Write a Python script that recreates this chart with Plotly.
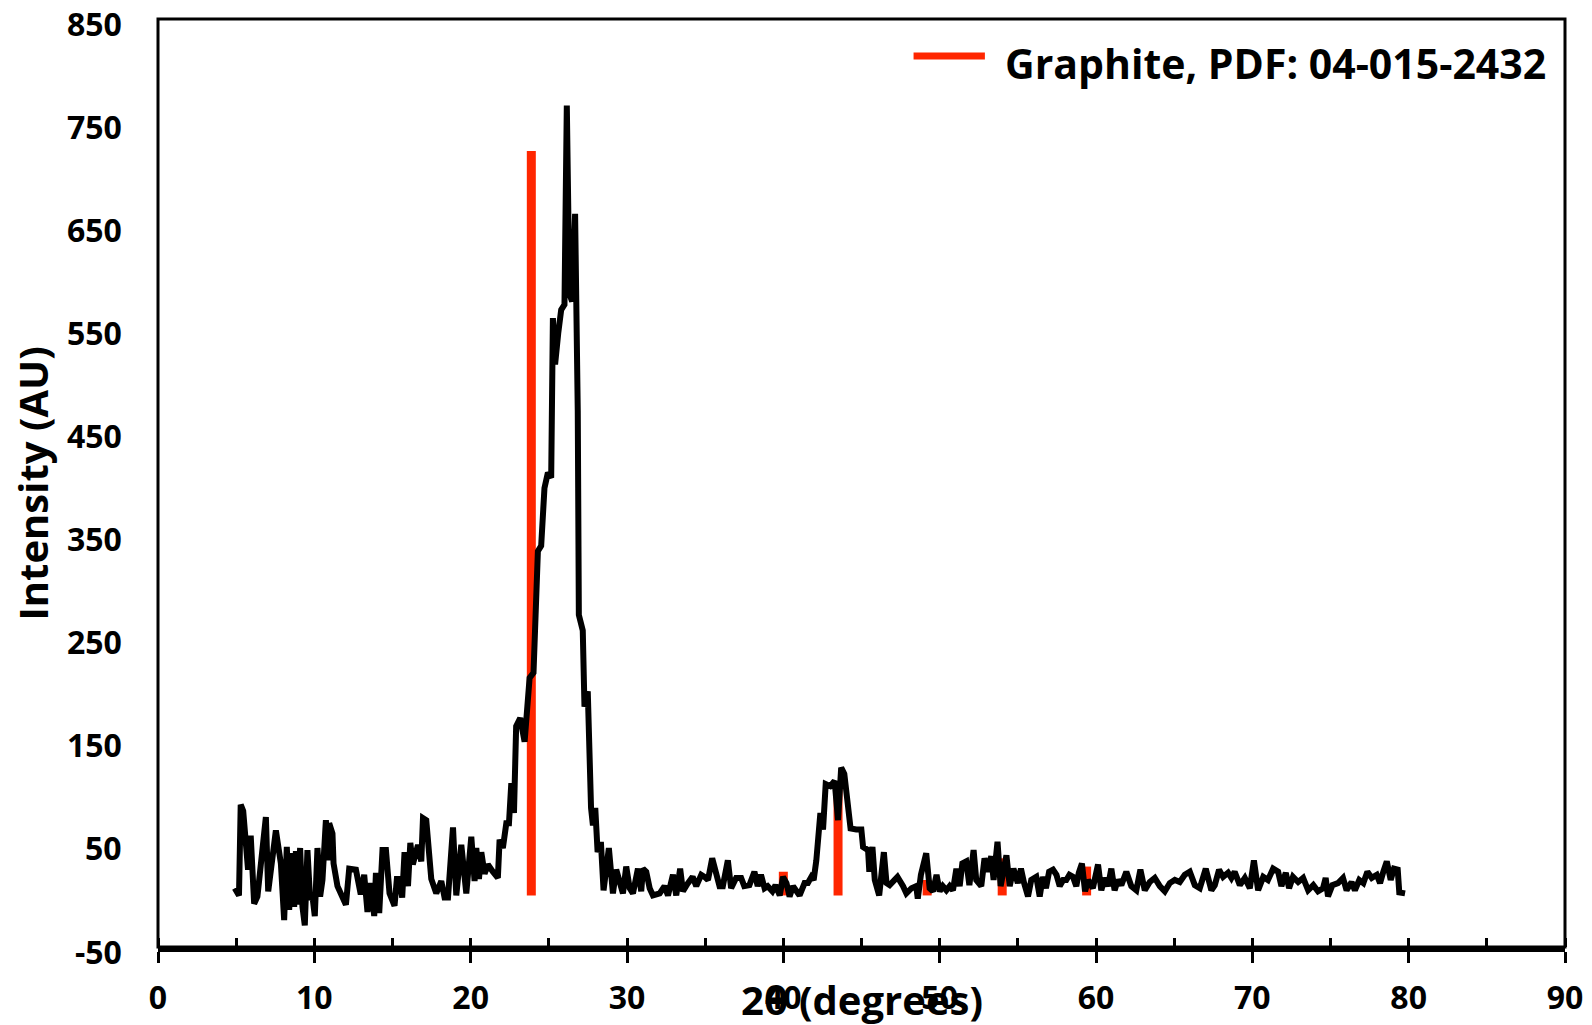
import plotly.graph_objects as go

# XRD pattern (2theta in degrees, intensity in AU)
two_theta = [
    4.91, 5.18, 5.29, 5.45, 5.76, 5.93, 6.15, 6.36, 6.90, 7.05, 7.54, 7.86, 8.07, 8.24, 8.39, 8.60,
    8.71, 8.82, 8.92, 9.09, 9.24, 9.39, 9.56, 9.73, 9.88, 10.03, 10.20, 10.37, 10.52, 10.74, 10.84,
    10.95, 11.16, 11.23, 11.48, 11.80, 12.02, 12.23, 12.66, 12.97, 13.19, 13.40, 13.62, 13.83, 13.94,
    14.15, 14.36, 14.58, 14.81, 15.13, 15.28, 15.45, 15.62, 15.77, 15.99, 16.14, 16.30, 16.63, 16.84,
    16.95, 17.16, 17.48, 17.80, 18.12, 18.33, 18.55, 18.87, 19.08, 19.40, 19.72, 20.04, 20.25, 20.36,
    20.53, 20.68, 20.89, 21.10, 21.42, 21.74, 21.85, 22.06, 22.28, 22.45, 22.60, 22.77, 22.91, 23.17,
    23.45, 23.66, 23.77, 24.02, 24.30, 24.51, 24.72, 24.94, 25.15, 25.26, 25.40, 25.60, 25.79, 26.00,
    26.15, 26.32, 26.49, 26.68, 26.85, 26.92, 27.17, 27.28, 27.49, 27.70, 27.82, 27.97, 28.12, 28.33,
    28.50, 28.84, 29.10, 29.31, 29.52, 29.74, 29.95, 30.17, 30.38, 30.70, 30.91, 31.02, 31.23, 31.45,
    31.66, 32.09, 32.40, 32.62, 32.94, 33.15, 33.40, 33.58, 33.90, 34.20, 34.43, 34.75, 34.96, 35.18,
    35.45, 35.70, 35.92, 36.13, 36.45, 36.66, 36.98, 37.30, 37.50, 37.83, 38.15, 38.36, 38.57, 38.80,
    39.00, 39.30, 39.50, 39.77, 39.98, 40.20, 40.40, 40.62, 40.83, 41.04, 41.36, 41.57, 41.79, 41.94,
    42.11, 42.37, 42.54, 42.71, 43.00, 43.28, 43.50, 43.70, 43.90, 44.10, 44.30, 44.67, 44.99, 45.10,
    45.42, 45.50, 45.70, 45.85, 46.13, 46.43, 46.60, 46.80, 47.30, 47.66, 47.87, 48.20, 48.50, 48.60,
    48.80, 49.14, 49.36, 49.57, 49.80, 50.00, 50.20, 50.43, 50.64, 50.85, 51.07, 51.28, 51.45, 51.70,
    51.90, 52.17, 52.34, 52.66, 52.87, 53.08, 53.30, 53.45, 53.70, 53.90, 54.27, 54.48, 54.72, 55.00,
    55.20, 55.40, 55.65, 55.86, 56.18, 56.40, 56.60, 56.80, 57.00, 57.25, 57.47, 57.68, 57.90, 58.10,
    58.30, 58.53, 58.74, 58.90, 59.10, 59.30, 59.50, 59.80, 60.13, 60.34, 60.55, 60.77, 60.98, 61.19,
    61.40, 61.62, 61.94, 62.26, 62.58, 62.84, 63.12, 63.44, 63.76, 64.08, 64.40, 64.72, 65.04, 65.36,
    65.68, 66.00, 66.32, 66.64, 67.02, 67.38, 67.60, 67.87, 68.13, 68.45, 68.66, 68.87, 69.20, 69.52,
    69.84, 70.10, 70.37, 70.70, 71.00, 71.33, 71.65, 71.86, 72.14, 72.35, 72.60, 72.93, 73.25, 73.57,
    73.90, 74.20, 74.52, 74.69, 74.84, 75.12, 75.48, 75.80, 76.03, 76.35, 76.56, 76.84, 77.10, 77.36,
    77.64, 77.96, 78.17, 78.38, 78.60, 78.85, 79.06, 79.30, 79.40, 79.77,
]
intensity = [
    7, 0, 88, 82, 25, 58, -8, -1, 76, 4, 63, 31, -24, 47, -14, 41,
    -11, 43, -9, 46, -11, -29, 44, -4, -1, -20, 46, -1, 15, 73, 34,
    70, 60, 31, 9, -3, -9, 26, 25, 1, 20, -16, 12, -20, 22,
    -17, 44, 44, 2, -10, 16, 16, -2, 42, 9, 51, 30, 49, 33,
    75, 73, 16, 2, 14, -2, -2, 66, 0, 49, 2, 57, 14, 46,
    16, 42, 21, 30, 23, 17, 54, 46, 70, 70, 109, 80, 164, 172,
    149, 196, 211, 216, 334, 339, 395, 410, 405, 560, 515, 545, 568, 573,
    766, 583, 576, 661, 470, 272, 257, 183, 198, 85, 68, 85, 42, 52,
    5, 46, 2, 25, 15, 2, 28, 7, 2, 26, 4, 26, 23, 7,
    0, 2, 9, 0, 20, 0, 26, 4, 12, 18, 9, 20, 18, 15,
    36, 18, 9, 9, 34, 7, 17, 17, 9, 10, 23, 9, 20, 7,
    9, 4, 10, 0, 18, 12, -1, 9, 5, 0, 12, 12, 18, 15,
    34, 80, 64, 108, 106, 111, 73, 124, 118, 86, 65, 64, 64, 47,
    44, 23, 47, 15, 0, 42, 12, 10, 18, 9, 2, 7, 9, -3,
    20, 41, 7, 4, 20, 4, 9, 5, 9, 5, 26, 9, 31, 33,
    10, 44, 15, 9, 36, 23, 38, 15, 52, 9, 39, 9, 26, 12,
    26, 12, -1, 15, 18, -1, 18, 7, 23, 25, 20, 9, 15, 15,
    20, 18, 9, 22, 31, 4, 15, 7, 30, 5, 17, 9, 26, 5,
    15, 10, 23, 9, 5, 25, 5, 13, 17, 9, 4, 12, 15, 13,
    20, 23, 10, 7, 26, 5, 10, 25, 18, 22, 17, 23, 10, 17,
    7, 34, 5, 18, 15, 26, 23, 9, 22, 7, 18, 13, 17, 5,
    10, 4, 7, 17, -1, 10, 12, 17, 5, 13, 5, 15, 12, 23,
    17, 20, 12, 23, 33, 15, 26, 25, 3, 2,
]

# reference pattern: Graphite, PDF 04-015-2432
ref_pos = [23.88, 40.0, 43.5, 49.2, 54.0, 59.4]
ref_int = [722, 23, 110, 15, 36, 28]
ref_base = 0

# axis ticks
x_ticks = [0, 10, 20, 30, 40, 50, 60, 70, 80, 90]
y_ticks = [-50, 50, 150, 250, 350, 450, 550, 650, 750, 850]
y_tick_labels = ["-50", "50", "150", "250", "350", "450", "550", "650", "750", "850"]

ref_x, ref_y = [], []
for p, h in zip(ref_pos, ref_int):
    ref_x += [p, p, None]
    ref_y += [ref_base, h, None]

RED = "#FF2600"
FONT = "Open Sans"

fig = go.Figure()
fig.add_trace(go.Scatter(x=ref_x, y=ref_y, mode="lines",
                         line=dict(color=RED, width=9), showlegend=False))
fig.add_trace(go.Scatter(x=two_theta, y=intensity, mode="lines",
                         line=dict(color="black", width=6), showlegend=False))

fig.update_xaxes(range=[0, 90], tickmode="array", tickvals=x_ticks,
                 showgrid=False, zeroline=False, automargin=False,
                 showline=True, linecolor="black", linewidth=5,
                 ticks="outside", ticklen=11, tickwidth=2.5, tickcolor="black",
                 minor=dict(dtick=5, ticks="inside", ticklen=9, tickwidth=2.5, tickcolor="black"),
                 tickfont=dict(family=FONT, size=32, color="black", weight="bold"),
                 ticklabelstandoff=8, ticklabeloverflow="allow")
# y labels sit a little below their values (as in the original), so they are
# placed as annotations on the y scale instead of axis tick labels
fig.update_yaxes(range=[-50, 850], tickmode="array", tickvals=y_ticks,
                 showticklabels=False, showgrid=False, zeroline=False, automargin=False,
                 showline=False, ticks="")
for v, t in zip(y_ticks, y_tick_labels):
    fig.add_annotation(text=t, xref="paper", yref="y", x=0, y=v, xanchor="right",
                       yanchor="middle", xshift=-34, yshift=-4, showarrow=False,
                       font=dict(family=FONT, size=32, color="black", weight="bold"))

# plot frame
fig.add_shape(type="rect", xref="paper", yref="paper", x0=0, x1=1, y0=0, y1=1,
              line=dict(color="black", width=3))

# legend drawn by hand so the sample line matches the long dash
fig.add_shape(type="line", xref="paper", yref="paper", x0=0.537, x1=0.5877, y0=0.960, y1=0.960,
              line=dict(color=RED, width=7))
fig.add_annotation(text="Graphite, PDF: 04-015-2432", xref="paper", yref="paper",
                   x=0.6004, y=0.9526, xanchor="left", yanchor="middle", showarrow=False,
                   font=dict(family=FONT, size=41, color="black", weight="bold"))

# axis titles
fig.add_annotation(text="Intensity (AU)", xref="paper", yref="paper", x=-0.0892, y=0.5,
                   textangle=-90, xanchor="center", yanchor="middle", showarrow=False,
                   font=dict(family=FONT, size=40, color="black", weight="bold"))
fig.add_annotation(text="2θ (degrees)", xref="paper", yref="paper", x=0.5, y=-0.0571,
                   xanchor="center", yanchor="middle", showarrow=False,
                   font=dict(family=FONT, size=40, color="black", weight="bold"))

# the page body has an 8px margin, so the figure is 8px smaller than the window
fig.update_layout(width=1584, height=1017, plot_bgcolor="white", paper_bgcolor="white",
                  margin=dict(l=150, r=27, t=11, b=78))

fig.write_html("out.html")
